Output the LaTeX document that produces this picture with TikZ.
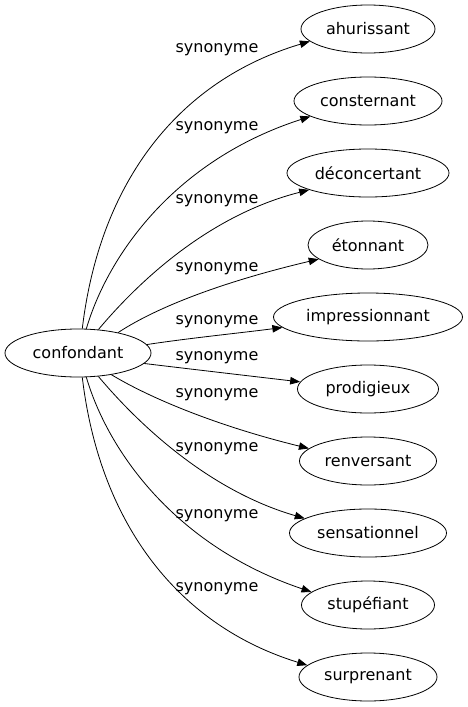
\documentclass[tikz,border=0pt]{standalone}
\usepackage{fontspec}
\setmainfont{DejaVu Sans}
\usetikzlibrary{shapes.geometric,arrows.meta}
\begin{document}
\begin{tikzpicture}[x=1pt,y=-1pt,
  word/.style={draw,ellipse,line width=0.8pt,inner sep=0pt,minimum height=48pt,font=\fontsize{16}{19}\selectfont},
  lab/.style={inner sep=0pt,font=\fontsize{16}{19}\selectfont},
  edge/.style={draw,line width=0.8pt,-{Triangle[length=10pt,width=7.5pt]}}]
\useasboundingbox (0,0) rectangle (467,707);
\node[word,minimum width=146pt] (conf) at (78,353) {confondant};
\node[word,minimum width=134pt] (ahur) at (368,29) {ahurissant};
\node[word,minimum width=148pt] (cons) at (368,101) {consternant};
\node[word,minimum width=162pt] (deco) at (368,173) {déconcertant};
\node[word,minimum width=120pt] (eton) at (368,245) {étonnant};
\node[word,minimum width=189pt] (impr) at (368,317) {impressionnant};
\node[word,minimum width=141pt] (prod) at (368,389) {prodigieux};
\node[word,minimum width=137pt] (renv) at (368,461) {renversant};
\node[word,minimum width=157pt] (sens) at (368,533) {sensationnel};
\node[word,minimum width=133pt] (stup) at (368,605) {stupéfiant};
\node[word,minimum width=138pt] (surp) at (368,677) {surprenant};
\node[lab] (l1) at (217,50) {synonyme};
\node[lab] (l2) at (217,128) {synonyme};
\node[lab] (l3) at (217,201) {synonyme};
\node[lab] (l4) at (217,269) {synonyme};
\node[lab] (l5) at (217,322) {synonyme};
\node[lab] (l6) at (217,358) {synonyme};
\node[lab] (l7) at (217,395) {synonyme};
\node[lab] (l8) at (217,449) {synonyme};
\node[lab] (l9) at (217,516) {synonyme};
\node[lab] (l10) at (217,589) {synonyme};
\draw[edge] (conf.80) .. controls (100,180) and (180,80) .. (ahur.192);
\draw[edge] (conf.71) .. controls (108,255) and (175,160) .. (cons.195);
\draw[edge] (conf.49) .. controls (140,280) and (210,215) .. (deco.196);
\draw[edge] (conf.27) .. controls (160,305) and (230,280) .. (eton.196);
\draw[edge] (conf.7) .. controls (190,338) and (240,333) .. (impr.187);
\draw[edge] (conf.-9) .. controls (190,369) and (250,376) .. (prod.174);
\draw[edge] (conf.-33) .. controls (155,401) and (225,428) .. (renv.168);
\draw[edge] (conf.-49) .. controls (140,426) and (210,491) .. (sens.167);
\draw[edge] (conf.-71) .. controls (108,451) and (175,546) .. (stup.167);
\draw[edge] (conf.-80) .. controls (100,526) and (180,626) .. (surp.169);
\end{tikzpicture}
\end{document}
